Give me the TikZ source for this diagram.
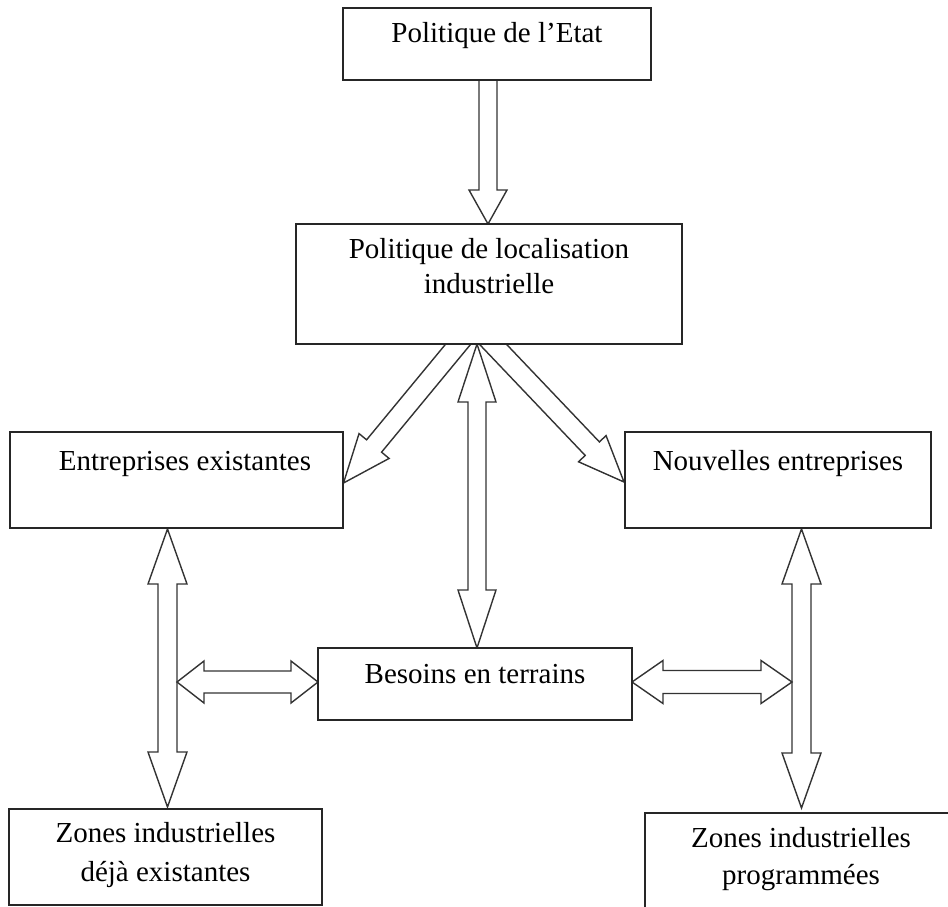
\documentclass[tikz,border=0pt]{standalone}
\usepackage{fontspec}
\setmainfont{Liberation Serif}
\usetikzlibrary{calc}
\pgfdeclarelayer{bg}
\pgfsetlayers{bg,main}
% single block arrow: #1 start, #2 tip, #3 shaft half width, #4 head half width, #5 head length
\newcommand{\blkarrow}[5]{%
  \coordinate (qq) at ($(#2)!#5!(#1)$);
  \draw[arr] ($(#1)!#3!90:(#2)$) -- ($(qq)!#3!90:(#2)$) -- ($(qq)!#4!90:(#2)$) -- (#2)
     -- ($(qq)!#4!-90:(#2)$) -- ($(qq)!#3!-90:(#2)$) -- ($(#1)!#3!-90:(#2)$) -- cycle;}
% double block arrow: #1 tip one, #2 tip two, #3 shaft half, #4 head half, #5 head length
\newcommand{\dblarrow}[5]{%
  \coordinate (qa) at ($(#1)!#5!(#2)$);
  \coordinate (qb) at ($(#2)!#5!(#1)$);
  \draw[arr] (#1) -- ($(qa)!#4!90:(#2)$) -- ($(qa)!#3!90:(#2)$) -- ($(qb)!#3!-90:(#1)$)
     -- ($(qb)!#4!-90:(#1)$) -- (#2) -- ($(qb)!#4!90:(#1)$) -- ($(qb)!#3!90:(#1)$)
     -- ($(qa)!#3!-90:(#2)$) -- ($(qa)!#4!-90:(#2)$) -- cycle;}
\begin{document}
\begin{tikzpicture}[x=1pt,y=-1pt,
  box/.style={draw=black!85,line width=1.8pt,fill=white,rectangle,inner sep=0pt},
  arr/.style={draw=black!80,line width=1.4pt,fill=white,line join=miter},
  txt/.style={font=\fontsize{29}{37}\selectfont,anchor=base,inner sep=0pt}]
\useasboundingbox (0,0) rectangle (948,907);
\clip (0,0) rectangle (948,907);

% boxes
\node[box,minimum width=308pt,minimum height=72pt]  (A) at (497,44) {};
\node[box,minimum width=386pt,minimum height=120pt] (B) at (489,284) {};
\node[box,minimum width=333pt,minimum height=96pt]  (C) at (176.5,480) {};
\node[box,minimum width=306pt,minimum height=96pt]  (D) at (778,480) {};
\node[box,minimum width=314pt,minimum height=72pt]  (E) at (475,684) {};
\node[box,minimum width=313pt,minimum height=96pt]  (F) at (165.5,857) {};
\node[box,minimum width=312pt,minimum height=102pt] (G) at (801,864) {};

% texts
\node[txt] (tA) at (497,43) {Politique de l’Etat};
\node[txt] (tB1) at (489,258) {Politique de localisation};
\node[txt] (tB2) at (489,293) {industrielle};
\node[txt] (tC) at (185,470) {Entreprises existantes};
\node[txt] (tD) at (778,470) {Nouvelles entreprises};
\node[txt] (tE) at (475,683) {Besoins en terrains};
\node[txt] (tF1) at (165.5,842) {Zones industrielles};
\node[txt] (tF2) at (165.5,881) {déjà existantes};
\node[txt] (tG1) at (801,847) {Zones industrielles};
\node[txt] (tG2) at (801,884) {programmées};

% connector end points
\coordinate (ab0) at (488,60);
\coordinate (ab1) at (488,224);
\coordinate (be0) at (477,344);
\coordinate (be1) at (477,648);
\coordinate (bc0) at (476.5,322);
\coordinate (bc1) at (343.5,483);
\coordinate (bd0) at (472.9,323.2);
\coordinate (bd1) at (624,482);
\coordinate (cf0) at (167.5,529);
\coordinate (cf1) at (167.5,807);
\coordinate (dg0) at (801.5,529);
\coordinate (dg1) at (801.5,808);
\coordinate (le0) at (177,682);
\coordinate (le1) at (318,682);
\coordinate (re0) at (632,682);
\coordinate (re1) at (792,682);

\begin{pgfonlayer}{bg}
\blkarrow{ab0}{ab1}{9pt}{19pt}{34pt}
\blkarrow{bc0}{bc1}{9.7pt}{19.5pt}{48pt}
\blkarrow{bd0}{bd1}{9.8pt}{19pt}{46pt}
\dblarrow{be0}{be1}{9pt}{19pt}{58pt}
\dblarrow{cf0}{cf1}{9.5pt}{19.5pt}{55pt}
\dblarrow{dg0}{dg1}{9.5pt}{19.5pt}{55pt}
\dblarrow{le0}{le1}{11pt}{21pt}{27pt}
\dblarrow{re0}{re1}{11.5pt}{21.5pt}{31pt}
\end{pgfonlayer}
\end{tikzpicture}
\end{document}
